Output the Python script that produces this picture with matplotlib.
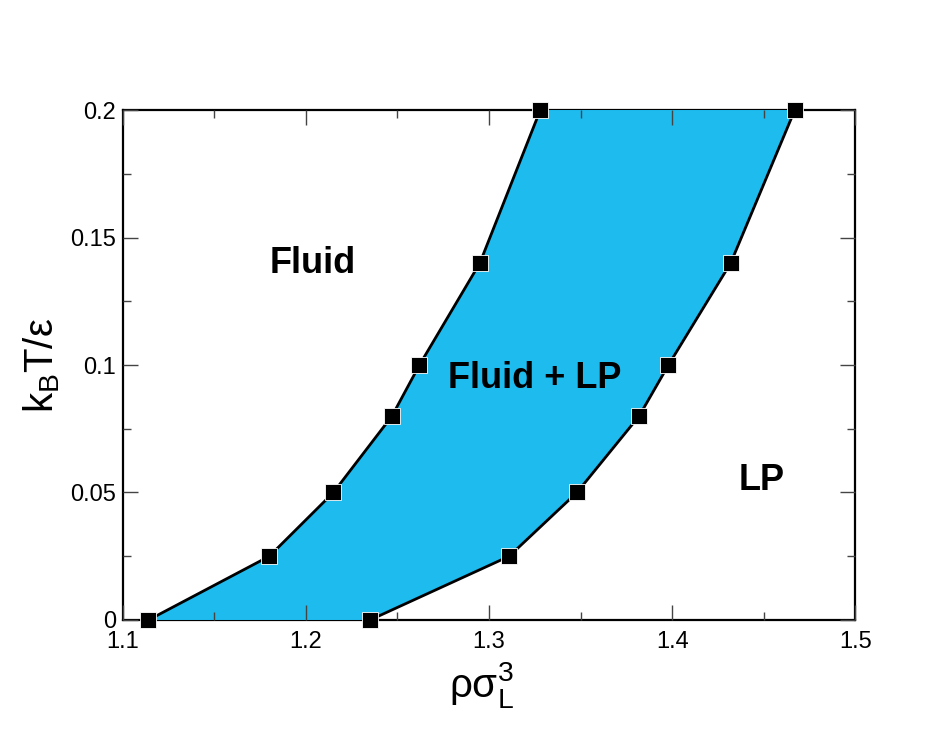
import matplotlib
matplotlib.use("Agg")
import matplotlib.pyplot as plt
import numpy as np

plt.rcParams['font.family'] = ['Liberation Sans', 'DejaVu Sans']
plt.rcParams['mathtext.fontset'] = 'custom'
plt.rcParams['mathtext.rm'] = 'Liberation Sans'
plt.rcParams['mathtext.it'] = 'Liberation Sans'

# Temperature levels
temps = [0.0, 0.025, 0.05, 0.08, 0.1, 0.14, 0.2]
# Coexistence densities
rho_fluid = [1.114, 1.180, 1.215, 1.247, 1.262, 1.295, 1.328]
rho_lp = [1.235, 1.311, 1.348, 1.382, 1.398, 1.432, 1.467]

fill_color = '#1EBBEE'

fig = plt.figure(figsize=(9.45, 7.3), dpi=100)
ax = fig.add_axes([0.130, 0.1507, 0.775, 0.6986])

poly_x = rho_fluid + rho_lp[::-1]
poly_y = temps + temps[::-1]
ax.fill(poly_x, poly_y, color=fill_color, zorder=1, linewidth=0)

ax.plot(rho_fluid, temps, color='black', lw=2, marker='s', ms=12,
        mfc='black', mec='white', mew=0.6, clip_on=False, zorder=5)
ax.plot(rho_lp, temps, color='black', lw=2, marker='s', ms=12,
        mfc='black', mec='white', mew=0.6, clip_on=False, zorder=5)

ax.set_xlim(1.1, 1.5)
ax.set_ylim(0, 0.2)
ax.set_xticks([1.1, 1.2, 1.3, 1.4, 1.5])
ax.set_xticklabels(['1.1', '1.2', '1.3', '1.4', '1.5'])
ax.set_yticks([0, 0.05, 0.1, 0.15, 0.2])
ax.set_yticklabels(['0', '0.05', '0.1', '0.15', '0.2'])
ax.set_xticks(np.arange(1.15, 1.5, 0.1), minor=True)
ax.set_yticks(np.arange(0.025, 0.2, 0.05), minor=True)

ax.tick_params(which='both', direction='in', top=True, right=True,
               labelsize=17, width=1.0, color='#444444')
ax.tick_params(which='major', length=11)
ax.tick_params(which='minor', length=6)
ax.tick_params(axis='x', which='major', pad=8)
ax.tick_params(axis='y', which='major', pad=5)
for s in ax.spines.values():
    s.set_linewidth(1.6)
    s.set_zorder(0.5)

ax.set_xlabel(r'$\mathregular{ρσ_L^3}$', fontsize=29, labelpad=4)
ax.set_ylabel(r'$\mathregular{k_B}$T/ε', fontsize=29, labelpad=6)
ax.xaxis.set_label_coords(0.49, -0.078)

ax.text(1.2038, 0.14, 'Fluid', fontsize=26, fontweight='bold', ha='center', va='center')
ax.text(1.3251, 0.0949, 'Fluid + LP', fontsize=26, fontweight='bold', ha='center', va='center')
ax.text(1.449, 0.0549, 'LP', fontsize=26, fontweight='bold', ha='center', va='center')

fig.savefig('out.png', dpi=100)
